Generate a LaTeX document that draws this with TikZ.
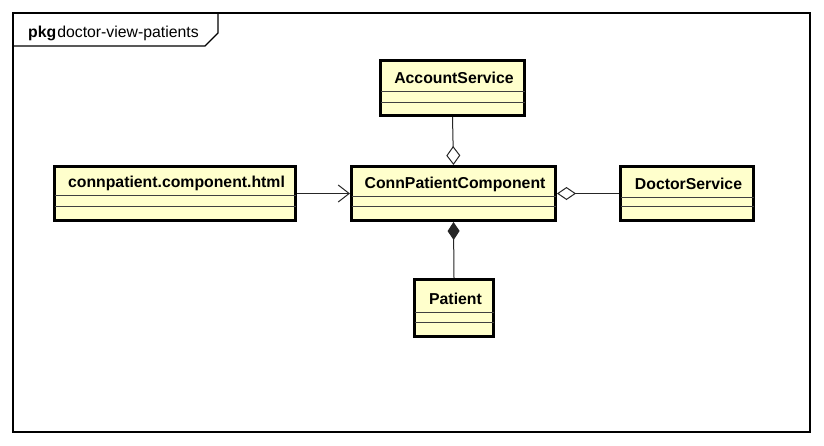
\documentclass[tikz,border=0pt]{standalone}
\usepackage{fontspec}
\setmainfont{Liberation Sans}
\usetikzlibrary{arrows.meta}
\definecolor{classfill}{RGB}{255,255,204}
\newcommand{\umlclass}[8]{% #1 name, #2 left, #3 top, #4 right, #5 bottom, #6 div1, #7 div2, #8 text
  \node[classbox, minimum width={#4-#2-3}, minimum height={#5-#3-3}] (#1) at ({(#2+#4)/2},{(#3+#5)/2}) {};
  \draw[divider] ({#2+1.5},#6) -- ({#4-1.5},#6);
  \draw[divider] ({#2+1.5},#7) -- ({#4-1.5},#7);
  \node[classname, anchor=base] (#1-name) at ({(#2+#4)/2+1.5},{#6-8}) {#8};
}
\begin{document}
\begin{tikzpicture}[x=1pt,y=-1pt,
  classbox/.style={draw, line width=3pt, fill=classfill, inner sep=0pt, outer sep=1.5pt, rectangle},
  classname/.style={font=\fontsize{15.8}{19}\selectfont\bfseries, inner sep=0pt},
  divider/.style={line width=0.9pt, draw=black!75},
  conn/.style={line width=1pt, draw=black!85},
  frameline/.style={line width=1.3pt},
]
\useasboundingbox (0,0) rectangle (824,445);
\fill[white] (0,0) rectangle (824,445);
% package frame
\draw[frameline] (13,13) rectangle (810,432);
\draw[frameline] (13,46) -- (205,46) -- (218,33) -- (218,13);
\node[anchor=base west, inner sep=0pt, font=\fontsize{15.8}{19}\selectfont] (pkgtitle) at (28,37) {\textbf{pkg}\hspace{1pt}doctor-view-patients};
% classes
\umlclass{acc}{379}{59}{526}{117}{91}{102}{AccountService}
\umlclass{conn}{350}{165}{557}{222}{196}{206}{ConnPatientComponent}
\umlclass{html}{53}{165}{297}{222}{195}{206}{connpatient.component.html}
\umlclass{doc}{619}{165}{755}{222}{197}{206}{DoctorService}
\umlclass{pat}{413}{278}{495}{338}{312}{322}{Patient}
% connectors
\draw[conn, -{Straight Barb[length=11pt, width=17pt, line width=1pt]}] (html.east) -- (conn.west);
\draw[conn, -{Diamond[open, fill=white, length=19pt, width=13pt, line width=1pt]}] (doc.west) -- (conn.east);
\draw[conn, -{Diamond[open, fill=white, length=19pt, width=14pt, line width=1pt]}] (acc.south) -- (conn.north);
\draw[conn, -{Diamond[length=18pt, width=12pt]}] (pat.north) -- (conn.south);
\end{tikzpicture}
\end{document}
